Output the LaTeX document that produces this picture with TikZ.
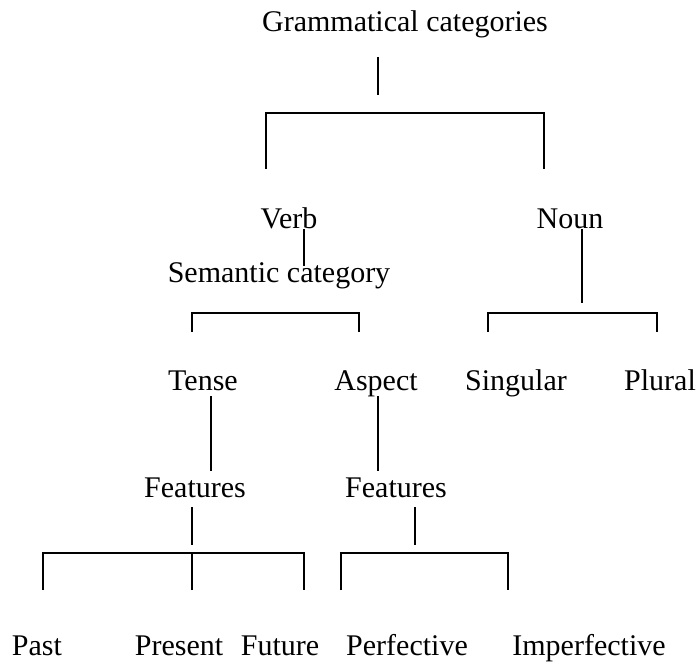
\documentclass[tikz,border=0pt]{standalone}
\usepackage{fontspec}
\setmainfont{Liberation Serif}
\usetikzlibrary{positioning}

\begin{document}
\begin{tikzpicture}[x = 1pt, y = -1pt, line width = 1.2pt]
\tikzset{cat/.style = {font = \fontsize{30}{36}\selectfont, inner sep = 0pt, anchor = base}}
\def\barTop{113}
\def\barMid{313}
\def\barLow{553}

\useasboundingbox (0, 0) rectangle (698, 663);

% labels
\node [cat] (gram) at (405, 32) {Grammatical categories};
\node [cat] (verb) at (289, 228) {Verb};
\node [cat] (noun) at (570, 228) {Noun};
\node [cat] (sem) at (279, 282) {Semantic category};
\node [cat] (tense) at (203, 390) {Tense};
\node [cat] (aspect) at (376, 390) {Aspect};
\node [cat] (sing) at (516, 390) {Singular};
\node [cat] (plural) at (660, 390) {Plural};
\node [cat] (tfeat) at (195, 497) {Features};
\node [cat] (afeat) at (396, 497) {Features};
\node [cat] (past) at (37, 655) {Past};
\node [cat] (present) at (179, 655) {Present};
\node [cat] (future) at (280, 655) {Future};
\node [cat] (perf) at (407, 655) {Perfective};
\node [cat] (imperf) at (589, 655) {Imperfective};

% stems
\coordinate (gram-a) at (378, 57);    \coordinate (gram-b) at (378, 95);
\coordinate (verb-a) at (304, 229);   \coordinate (verb-b) at (304, 266);
\coordinate (noun-a) at (582, 229);   \coordinate (noun-b) at (582, 303);
\coordinate (tense-a) at (211, 396);  \coordinate (tense-b) at (211, 471);
\coordinate (aspect-a) at (378, 396); \coordinate (aspect-b) at (378, 471);
\coordinate (tfeat-a) at (192, 507);  \coordinate (tfeat-b) at (192, 545);
\coordinate (afeat-a) at (415, 507);  \coordinate (afeat-b) at (415, 545);
\foreach \n in {gram, verb, noun, tense, aspect, tfeat, afeat}
  \draw (\n-a) -- (\n-b);

% brackets
\coordinate (top-l) at (266, 169); \coordinate (top-r) at (544, 169);
\draw (top-l) |- (544, \barTop) -- (top-r);
\coordinate (sem-l) at (192, 332); \coordinate (sem-r) at (359, 332);
\draw (sem-l) |- (359, \barMid) -- (sem-r);
\coordinate (noun-l) at (488, 332); \coordinate (noun-r) at (657, 332);
\draw (noun-l) |- (657, \barMid) -- (noun-r);
\coordinate (tf-l) at (43, 590); \coordinate (tf-m) at (192, 590); \coordinate (tf-r) at (304, 590);
\draw (tf-l) |- (304, \barLow) -- (tf-r);
\draw (tf-m) -- (192, \barLow);
\coordinate (af-l) at (341, 590); \coordinate (af-r) at (508, 590);
\draw (af-l) |- (508, \barLow) -- (af-r);
\end{tikzpicture}
\end{document}
